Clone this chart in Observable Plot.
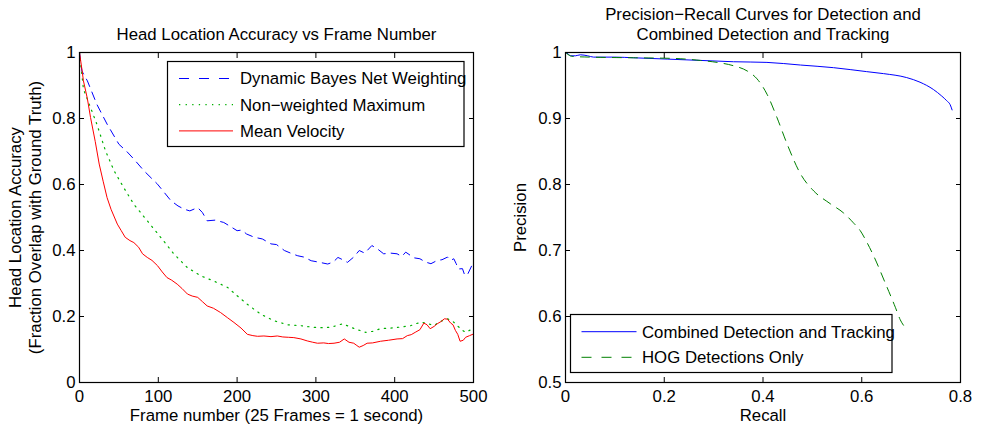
<!DOCTYPE html>
<html><head><meta charset="utf-8">
<script src="https://cdn.jsdelivr.net/npm/d3@7"></script>
<script src="https://cdn.jsdelivr.net/npm/@observablehq/plot@0.6"></script>
<style>
body{margin:0;background:#fff;}
#wrap{display:flex;width:983px;height:428px;overflow:hidden;}
#wrap svg{display:block;}
</style></head><body><div id="wrap"></div>
<script>
// ---------- DATA ----------
const leftTitle = "Head Location Accuracy vs Frame Number";
const leftYLabel = ["Head Location Accuracy", "(Fraction Overlap with Ground Truth)"];
const leftXLabel = "Frame number (25 Frames = 1 second)";
const leftXTicks = [0, 100, 200, 300, 400, 500];
const leftXTickLabels = ["0", "100", "200", "300", "400", "500"];
const leftYTicks = [0, 0.2, 0.4, 0.6, 0.8, 1];
const leftYTickLabels = ["0", "0.2", "0.4", "0.6", "0.8", "1"];
const leftSeriesNames = ["Dynamic Bayes Net Weighting", "Non\u2212weighted Maximum", "Mean Velocity"];

const dbnFrames = [0,3,10,22,35,50,60,69,82,99,116,125,133,140,150,156,162,172,183,190,200,206,212,222,232,243,250,260,270,277,285,294,303,315,322,328,334,340,348,355,362,371,378,386,395,403,409,414,420,424,432,439,446,454,460,467,471,475,478,481,486,489,493,498,500];
const dbnValues = [1.0,0.944,0.914,0.843,0.783,0.722,0.70,0.677,0.641,0.601,0.551,0.535,0.525,0.52,0.53,0.515,0.49,0.492,0.485,0.475,0.46,0.462,0.45,0.44,0.435,0.42,0.418,0.40,0.39,0.384,0.38,0.369,0.365,0.359,0.365,0.379,0.372,0.364,0.38,0.40,0.392,0.415,0.405,0.39,0.392,0.39,0.382,0.395,0.385,0.378,0.375,0.365,0.36,0.37,0.372,0.38,0.37,0.375,0.36,0.344,0.345,0.324,0.33,0.355,0.358];

const nwmFrames = [0,5,14,22,33,44,56,69,86,103,120,137,154,170,188,200,213,230,247,264,281,298,310,320,334,349,363,372,382,395,408,420,433,442,450,458,467,474,479,485,490,495,500];
const nwmValues = [1.0,0.889,0.833,0.783,0.702,0.641,0.591,0.54,0.49,0.44,0.389,0.348,0.323,0.308,0.288,0.263,0.237,0.207,0.187,0.175,0.172,0.167,0.166,0.168,0.178,0.163,0.152,0.155,0.163,0.165,0.168,0.172,0.183,0.178,0.173,0.185,0.193,0.185,0.173,0.16,0.152,0.158,0.163];

const mvFrames = [0,3,5,10,14,20,25,30,35,40,48,53,58,64,69,75,80,86,92,99,105,111,117,124,130,137,143,150,156,162,170,179,188,196,205,213,220,226,234,243,251,258,265,272,281,289,296,302,310,316,323,330,336,342,348,352,355,360,365,372,382,392,403,410,416,421,426,432,437,441,445,450,454,459,463,467,471,474,477,480,483,487,490,495,500];
const mvValues = [1.0,0.95,0.914,0.86,0.803,0.73,0.662,0.61,0.56,0.525,0.48,0.46,0.44,0.43,0.424,0.41,0.39,0.379,0.37,0.354,0.335,0.318,0.31,0.298,0.285,0.268,0.262,0.258,0.245,0.232,0.225,0.212,0.196,0.182,0.165,0.146,0.142,0.14,0.141,0.139,0.141,0.138,0.137,0.136,0.132,0.126,0.122,0.119,0.12,0.118,0.119,0.122,0.132,0.122,0.119,0.112,0.107,0.112,0.119,0.12,0.125,0.128,0.132,0.133,0.142,0.145,0.152,0.16,0.18,0.175,0.163,0.17,0.178,0.185,0.193,0.192,0.18,0.175,0.158,0.146,0.125,0.128,0.137,0.142,0.147];

const rightTitle = ["Precision\u2212Recall Curves for Detection and", "Combined Detection and Tracking"];
const rightYLabel = "Precision";
const rightXLabel = "Recall";
const rightXTicks = [0, 0.2, 0.4, 0.6, 0.8];
const rightXTickLabels = ["0", "0.2", "0.4", "0.6", "0.8"];
const rightYTicks = [0.5, 0.6, 0.7, 0.8, 0.9, 1];
const rightYTickLabels = ["0.5", "0.6", "0.7", "0.8", "0.9", "1"];
const rightSeriesNames = ["Combined Detection and Tracking", "HOG Detections Only"];

const combRecall = [0,0.005,0.01,0.02,0.03,0.045,0.057,0.1,0.138,0.206,0.273,0.34,0.408,0.476,0.543,0.61,0.644,0.691,0.718,0.745,0.762,0.772,0.779,0.783];
const combPrecision = [1.0,0.998,0.995,0.995,0.9965,0.995,0.993,0.993,0.992,0.990,0.988,0.986,0.985,0.981,0.977,0.971,0.968,0.962,0.955,0.944,0.934,0.927,0.921,0.913];

const hogRecall = [0,0.005,0.015,0.05,0.138,0.22,0.273,0.307,0.34,0.368,0.388,0.408,0.428,0.449,0.476,0.503,0.536,0.563,0.583,0.597,0.61,0.624,0.648,0.668,0.678,0.692];
const hogPrecision = [1.0,0.997,0.994,0.993,0.992,0.991,0.988,0.985,0.98,0.972,0.96,0.937,0.902,0.861,0.816,0.790,0.771,0.757,0.742,0.730,0.713,0.692,0.650,0.614,0.595,0.580];

// ---------- STYLE ----------
const FONT = "'Liberation Sans', Arial, Helvetica, sans-serif";
const FS = 16.8;
const zip = (xs, ys) => xs.map((x, i) => ({x, y: ys[i]}));

function boxTicks(xt, yt, len) {
  const none = () => "";
  return [
    Plot.axisX(xt, {anchor: "bottom", tickSize: len, dy: -len, tickFormat: none, label: null, stroke: "black"}),
    Plot.axisX(xt, {anchor: "top", tickSize: len, dy: len, tickFormat: none, label: null, stroke: "black"}),
    Plot.axisY(yt, {anchor: "left", tickSize: len, dx: len, tickFormat: none, label: null, stroke: "black"}),
    Plot.axisY(yt, {anchor: "right", tickSize: len, dx: -len, tickFormat: none, label: null, stroke: "black"})
  ];
}
function tickLabels(xt, xl, yt, yl) {
  return [
    Plot.axisX(xt, {anchor: "bottom", tickSize: 0, tickPadding: 8, tickFormat: d => xl[xt.indexOf(d)], label: null, fill: "black"}),
    Plot.axisY(yt, {anchor: "left", tickSize: 0, tickPadding: 4, tickFormat: d => yl[yt.indexOf(d)], label: null, fill: "black"})
  ];
}

const wrap = document.getElementById("wrap");

// ---------- LEFT ----------
const left = Plot.plot({
  width: 490, height: 428,
  marginLeft: 79, marginRight: 17, marginTop: 52, marginBottom: 46,
  style: {fontFamily: FONT, fontSize: FS + "px", color: "black", background: "white"},
  x: {domain: [0, 500]},
  y: {domain: [0, 1]},
  marks: [
    Plot.line(zip(dbnFrames, dbnValues), {x: "x", y: "y", stroke: "#0000ff", strokeWidth: 1, strokeDasharray: "8,6"}),
    Plot.line(zip(nwmFrames, nwmValues), {x: "x", y: "y", stroke: "#00b000", strokeWidth: 1.2, strokeDasharray: "1.3,5.3"}),
    Plot.line(zip(mvFrames, mvValues), {x: "x", y: "y", stroke: "#ff0000", strokeWidth: 1}),
    Plot.frame({stroke: "black", strokeWidth: 1.2}),
    ...boxTicks(leftXTicks, leftYTicks, 5),
    ...tickLabels(leftXTicks, leftXTickLabels, leftYTicks, leftYTickLabels),
    Plot.text([leftTitle], {text: d => d, frameAnchor: "top", dy: -18, lineAnchor: "middle", textAnchor: "middle", fill: "black"}),
    Plot.text([leftXLabel], {text: d => d, frameAnchor: "bottom", dy: 33, lineAnchor: "middle", textAnchor: "middle", fill: "black"}),
    Plot.text([leftYLabel[0]], {text: d => d, frameAnchor: "left", rotate: -90, dx: -64, lineAnchor: "middle", textAnchor: "middle", fill: "black"}),
    Plot.text([leftYLabel[1]], {text: d => d, frameAnchor: "left", rotate: -90, dx: -44, lineAnchor: "middle", textAnchor: "middle", fill: "black"})
  ]
});
wrap.appendChild(left);

// ---------- RIGHT ----------
const right = Plot.plot({
  width: 493, height: 428,
  marginLeft: 75, marginRight: 23, marginTop: 52, marginBottom: 46,
  style: {fontFamily: FONT, fontSize: FS + "px", color: "black", background: "white"},
  x: {domain: [0, 0.8]},
  y: {domain: [0.5, 1]},
  marks: [
    Plot.line(zip(combRecall, combPrecision), {x: "x", y: "y", stroke: "#0000ff", strokeWidth: 1, curve: "monotone-x"}),
    Plot.line(zip(hogRecall, hogPrecision), {x: "x", y: "y", stroke: "#008000", strokeWidth: 1, strokeDasharray: "9,7", curve: "monotone-x"}),
    Plot.frame({stroke: "black", strokeWidth: 1.2}),
    ...boxTicks(rightXTicks, rightYTicks, 5),
    ...tickLabels(rightXTicks, rightXTickLabels, rightYTicks, rightYTickLabels),
    Plot.text([rightTitle[0]], {text: d => d, frameAnchor: "top", dy: -38, lineAnchor: "middle", textAnchor: "middle", fill: "black"}),
    Plot.text([rightTitle[1]], {text: d => d, frameAnchor: "top", dy: -18, lineAnchor: "middle", textAnchor: "middle", fill: "black"}),
    Plot.text([rightXLabel], {text: d => d, frameAnchor: "bottom", dy: 33, lineAnchor: "middle", textAnchor: "middle", fill: "black"}),
    Plot.text([rightYLabel], {text: d => d, frameAnchor: "left", rotate: -90, dx: -45, lineAnchor: "middle", textAnchor: "middle", fill: "black"})
  ]
});
wrap.appendChild(right);

// ---------- LEGENDS ----------
function legend(svg, box, items) {
  const g = d3.select(svg).append("g").attr("font-family", FONT).attr("font-size", FS).attr("text-anchor", "start");
  g.append("rect").attr("x", box.x).attr("y", box.y).attr("width", box.w).attr("height", box.h)
    .attr("fill", "white").attr("stroke", "black").attr("stroke-width", 1.2);
  items.forEach((it, i) => {
    const y = box.row0 + i * box.step;
    g.append("line").attr("x1", box.lx1).attr("x2", box.lx2).attr("y1", y).attr("y2", y)
      .attr("stroke", it.color).attr("stroke-width", it.width || 1)
      .attr("stroke-dasharray", it.dash || null);
    g.append("text").attr("x", box.tx).attr("y", y).attr("dy", "0.35em").attr("text-anchor", "start")
      .attr("fill", "black").text(it.name);
  });
}
legend(left, {x: 167.5, y: 61.5, w: 296.5, h: 85, row0: 78.5, step: 26.2, lx1: 179, lx2: 233, tx: 240}, [
  {name: leftSeriesNames[0], color: "#0000ff", dash: "10,10"},
  {name: leftSeriesNames[1], color: "#00b000", dash: "1.3,5.3", width: 1.2},
  {name: leftSeriesNames[2], color: "#ff0000"}
]);
legend(right, {x: 570.5 - 490, y: 314.5, w: 321.5, h: 58, row0: 331.7, step: 25.6, lx1: 581.5 - 490, lx2: 636.5 - 490, tx: 642 - 490}, [
  {name: rightSeriesNames[0], color: "#0000ff"},
  {name: rightSeriesNames[1], color: "#008000", dash: "10,10"}
]);
</script></body></html>
